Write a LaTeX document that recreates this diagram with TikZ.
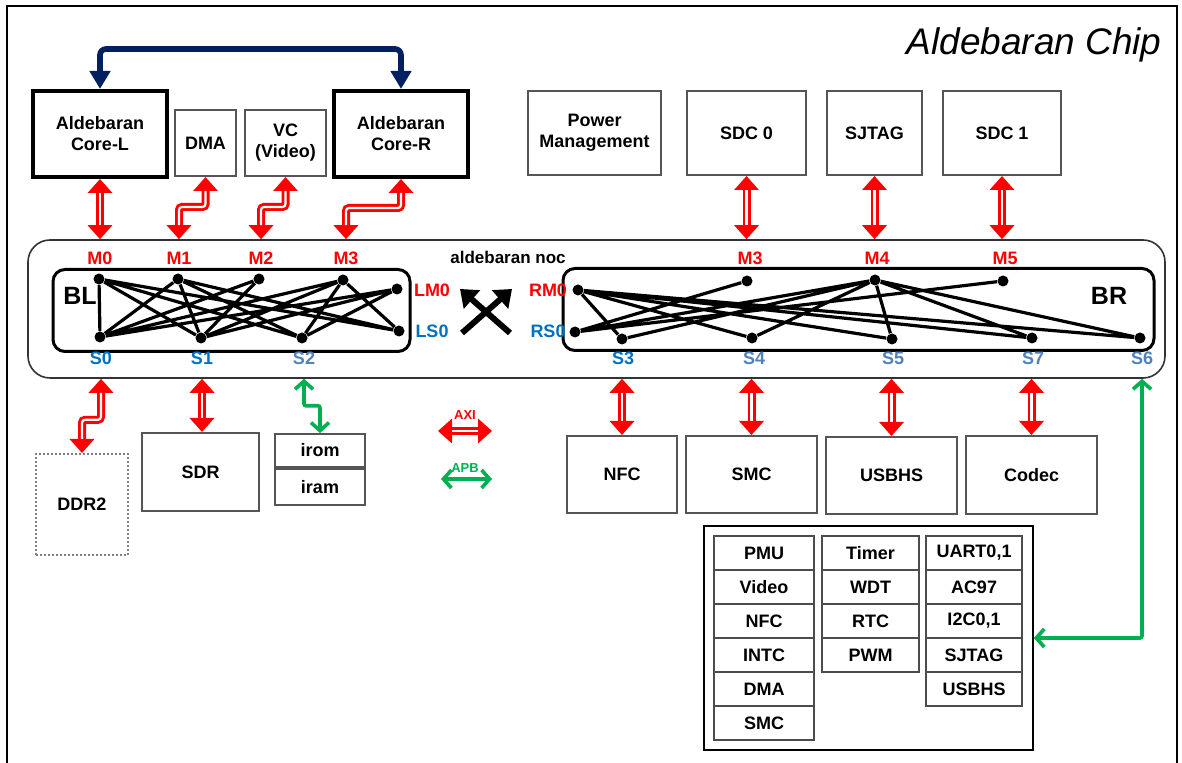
\documentclass[tikz,border=0pt]{standalone}
\usepackage{fontspec}
\setmainfont{Liberation Sans}
\usetikzlibrary{arrows.meta}
\definecolor{axired}{RGB}{255,0,0}
\definecolor{apbgreen}{RGB}{0,176,80}
\definecolor{linknavy}{RGB}{0,32,96}
\definecolor{portblue}{RGB}{0,112,192}
\definecolor{portsteel}{RGB}{79,129,189}
\definecolor{boxgray}{RGB}{85,85,85}
\newcommand{\boxfont}{\bfseries\fontsize{9}{10.5}\selectfont}
\tikzset{blk/.style 2 args={draw=boxgray, line width=1pt, fill=white, minimum width=#1pt, minimum height=#2pt, inner sep=0pt, align=center, font=\boxfont}}
\tikzset{core/.style 2 args={blk={#1}{#2}, draw=black, line width=2pt}}
\tikzset{cell/.style={blk={#1}{17}, draw=black!70, line width=1.2pt}}
\tikzset{noc/.style={draw=black!80, line width=0.8pt, rounded corners=11pt, minimum width=568.5pt, minimum height=69pt}}
\tikzset{xbox/.style={draw, line width=1.5pt, rounded corners=6pt, minimum width=#1pt, minimum height=41pt}}
\tikzset{hub/.style={circle, fill=black, inner sep=0pt, minimum size=5.5pt}}
\tikzset{wire/.style={line width=1.6pt}}
\tikzset{mlab/.style={text=axired, font=\boxfont, inner sep=0pt}}
\tikzset{slab/.style={text=portblue, font=\boxfont, inner sep=0pt}}
\tikzset{slab2/.style={text=portsteel, font=\boxfont, inner sep=0pt}}
\tikzset{axi/.style={draw=axired, line width=4pt, {Triangle[width=12pt,length=7pt]}-{Triangle[width=12pt,length=7pt]}, rounded corners=1.5pt, postaction={draw=white, line width=1.1pt, arrows=-, shorten <=7pt, shorten >=7pt}}}
\tikzset{apb/.style={draw=apbgreen, line width=1.8pt, {Straight Barb[length=4pt,width=9pt]}-{Straight Barb[length=4pt,width=9pt]}, rounded corners=1pt}}
\tikzset{corelink/.style={draw=linknavy, line width=2.8pt, {Triangle[width=10pt,length=9pt]}-{Triangle[width=10pt,length=9pt]}, rounded corners=3pt}}
\tikzset{xarrow/.style={draw=black, line width=3pt, -{Triangle[width=12pt,length=8pt]}}}

\begin{document}
\begin{tikzpicture}[x=0.5pt,y=-0.5pt]
\useasboundingbox (0,0) rectangle (1182,763);
\clip (0,0) rectangle (1182,763);
\draw[line width=1pt] (7,6) rectangle (1177,790);
\node[anchor=base east, inner sep=0pt, font=\itshape\fontsize{18.5}{22}\selectfont] (title) at (1162,55) {Aldebaran Chip};

\node[noc] (noc) at (596.5,309) {};
\node[font=\bfseries\fontsize{8.5}{10}\selectfont] (noctag) at (508,257) {aldebaran noc};
\node[xbox=178.5] (bl) at (231.5,310.5) {};
\node[xbox=295.5] (br) at (858.5,309.5) {};
\node[font=\bfseries\fontsize{12.5}{14}\selectfont] (bltag) at (80,296) {BL};
\node[font=\bfseries\fontsize{12.5}{14}\selectfont] (brtag) at (1109,296) {BR};

\node[hub] (bm0) at (99,279) {};
\node[hub] (bm1) at (178,279) {};
\node[hub] (bm2) at (259,279) {};
\node[hub] (bm3) at (343,280) {};
\node[hub] (blm) at (397,289) {};
\node[hub] (bs0) at (100,337) {};
\node[hub] (bs1) at (201,338) {};
\node[hub] (bs2) at (302,338) {};
\node[hub] (bls) at (399,331) {};
\draw[wire] (bm0) -- (bs0) (bm0) -- (bs1) (bm0) -- (bs2) (bm0) -- (bls)
  (bm1) -- (bs0) (bm1) -- (bs1) (bm1) -- (bs2) (bm1) -- (bls)
  (bm2) -- (bs0) (bm2) -- (bs1)
  (bm3) -- (bs0) (bm3) -- (bs1) (bm3) -- (bs2) (bm3) -- (bls)
  (blm) -- (bs0) (blm) -- (bs1) (blm) -- (bs2);

\node[hub] (rm0) at (578,290) {};
\node[hub] (rs0) at (575,332) {};
\node[hub] (rm3) at (747,281) {};
\node[hub] (rm4) at (875,280) {};
\node[hub] (rm5) at (1003,281) {};
\node[hub] (rs3) at (622,339) {};
\node[hub] (rs4) at (752,338) {};
\node[hub] (rs5) at (892,339) {};
\node[hub] (rs7) at (1032,338) {};
\node[hub] (rs6) at (1140,338) {};
\draw[wire] (rm0) -- (rs3) (rm0) -- (rs4) (rm0) -- (rs5) (rm0) -- (rs7) (rm0) -- (rs6)
  (rs0) -- (rm3) (rs0) -- (rm4) (rs0) -- (rm5)
  (rm4) -- (rs3) (rm4) -- (rs4) (rm4) -- (rs5) (rm4) -- (rs7) (rm4) -- (rs6);

\node[mlab] (lM0) at (100,258) {M0};
\node[mlab] (lM1) at (179,258) {M1};
\node[mlab] (lM2) at (261,258) {M2};
\node[mlab] (lM3) at (346,258) {M3};
\node[mlab] (rM3) at (750,258) {M3};
\node[mlab] (rM4) at (877,258) {M4};
\node[mlab] (rM5) at (1005,258) {M5};
\node[mlab] (lLM0) at (432,290) {LM0};
\node[slab] (lLS0) at (432,331) {LS0};
\node[mlab] (lRM0) at (548,290) {RM0};
\node[slab] (lRS0) at (548,331) {RS0};
\node[slab] (lS0) at (101,358) {S0};
\node[slab] (lS1) at (202,358) {S1};
\node[slab2] (lS2) at (304,358) {S2};
\node[slab] (lS3) at (623,358) {S3};
\node[slab2] (lS4) at (754,358) {S4};
\node[slab2] (lS5) at (893,358) {S5};
\node[slab2] (lS7) at (1033,358) {S7};
\node[slab2] (lS6) at (1142,358) {S6};

\coordinate (xa) at (510,333);
\coordinate (xb) at (460,289);
\coordinate (xc) at (462,333);
\coordinate (xd) at (512,289);
\draw[xarrow] (xa) -- (xb);
\draw[xarrow] (xc) -- (xd);

\node[core={67}{43}] (coreL) at (100,134) {Aldebaran\\Core-L};
\node[blk={30.5}{33}] (dma) at (205.5,143) {DMA};
\node[blk={40.5}{33}] (vc) at (285.5,143) {VC\\(Video)};
\node[core={67}{43}] (coreR) at (401,134) {Aldebaran\\Core-R};
\node[blk={66.5}{42}] (pwr) at (594.5,133) {Power\\Management};
\node[blk={59.5}{42}] (sdc0) at (746.5,133) {SDC 0};
\node[blk={47.5}{42}] (sjtag) at (874.5,133) {SJTAG};
\node[blk={59}{42}] (sdc1) at (1002,133) {SDC 1};

\node[blk={46}{50.5}, draw=gray, densely dotted] (ddr) at (82,504.5) {DDR2};
\node[blk={58.5}{39}] (sdr) at (200.5,472) {SDR};
\node[blk={45}{16.5}] (irom) at (320,450.5) {irom};
\node[blk={45}{18}] (iram) at (320,487) {iram};
\node[blk={55}{38.5}] (nfc) at (622,474.5) {NFC};
\node[blk={65.5}{38.5}] (smc) at (751.5,474.5) {SMC};
\node[blk={65.5}{38.5}] (usbhs) at (891.5,475.5) {USBHS};
\node[blk={65.5}{39}] (codec) at (1031.5,475) {Codec};

\node[draw, line width=0.8pt, minimum width=164.5pt, minimum height=112pt] (apbgrp) at (868.5,638) {};
\node[cell=50] (pmu) at (764,553) {PMU};
\node[cell=50] (video) at (764,587) {Video};
\node[cell=50] (pnfc) at (764,621) {NFC};
\node[cell=50] (intc) at (764,655) {INTC};
\node[cell=50] (pdma) at (764,689) {DMA};
\node[cell=50] (psmc) at (764,723) {SMC};
\node[cell=48.5] (timer) at (870.5,553) {Timer};
\node[cell=48.5] (wdt) at (870.5,587) {WDT};
\node[cell=48.5] (rtc) at (870.5,621) {RTC};
\node[cell=48.5] (pwm) at (870.5,655) {PWM};
\node[cell=48] (uart) at (974,553) {UART0,1};
\node[cell=48] (ac97) at (974,587) {AC97};
\node[cell=48] (iic) at (974,621) {I2C0,1};
\node[cell=48] (psjtag) at (974,655) {SJTAG};
\node[cell=48] (pusb) at (974,689) {USBHS};

\draw[corelink] (coreL.north) -- ++(0,-40) -| (coreR.north);
\draw[axi] (coreL.south) -- (coreL.south |- noc.north);
\draw[axi] (dma.south) -- ++(0,30) -| (lM1 |- noc.north);
\draw[axi] (vc.south) -- ++(0,30) -| (lM2 |- noc.north);
\draw[axi] (coreR.south) -- ++(0,29) -| (lM3 |- noc.north);
\draw[axi] (sdc0.south) -- (sdc0.south |- noc.north);
\draw[axi] (sjtag.south) -- (sjtag.south |- noc.north);
\draw[axi] (sdc1.south) -- (sdc1.south |- noc.north);

\draw[axi] (lS0 |- noc.south) -- ++(0,41) -| (ddr.north);
\draw[axi] (lS1 |- noc.south) -- (lS1 |- sdr.north);
\draw[apb] (lS2 |- noc.south) -- ++(0,27) -| (irom.north);
\draw[axi] (nfc.north |- noc.south) -- (nfc.north);
\draw[axi] (smc.north |- noc.south) -- (smc.north);
\draw[axi] (usbhs.north |- noc.south) -- (usbhs.north);
\draw[axi] (codec.north |- noc.south) -- (codec.north);
\draw[apb] (apbgrp.east) -| (lS6 |- noc.south);

\coordinate (axiL) at (438,431);
\coordinate (axiR) at (492,431);
\coordinate (apbL) at (441,479);
\coordinate (apbR) at (492,479);
\draw[axi] (axiL) -- (axiR);
\draw[apb] (apbL) -- (apbR);
\node[text=axired, font=\bfseries\fontsize{6.5}{7}\selectfont] (axitag) at (465,415) {AXI};
\node[text=apbgreen, font=\bfseries\fontsize{6.5}{7}\selectfont] (apbtag) at (465,468) {APB};
\end{tikzpicture}
\end{document}
